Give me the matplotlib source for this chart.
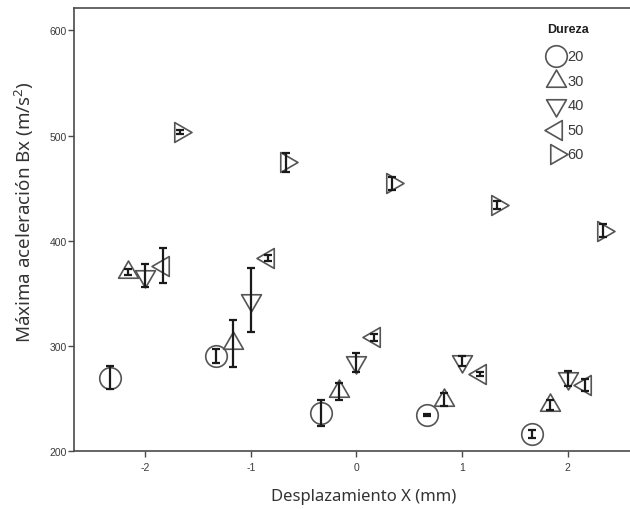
import numpy as np
import matplotlib
matplotlib.use("Agg")
import matplotlib.pyplot as plt
from matplotlib.path import Path

# Desplazamiento X levels and hardness groups
x_levels = [-2, -1, 0, 1, 2]
durezas = [20, 30, 40, 50, 60]
x_tick_labels = ["-2", "-1", "0", "1", "2"]
y_ticks = [200, 300, 400, 500, 600]

# Mean of maximum acceleration Bx (m/s^2) and error-bar half widths per group
mean_20 = [270.0, 290.7, 236.4, 234.7, 216.5]
err_20 = [10.8, 6.7, 12.7, 1.0, 3.8]
mean_30 = [370.5, 302.5, 257.0, 249.0, 244.0]
err_30 = [3.0, 22.6, 8.0, 6.0, 5.0]
mean_40 = [367.0, 343.9, 284.6, 286.0, 269.5]
err_40 = [11.0, 30.2, 8.9, 5.0, 7.0]
mean_50 = [376.5, 383.5, 308.4, 273.5, 263.2]
err_50 = [16.7, 3.0, 3.2, 1.5, 5.6]
mean_60 = [503.4, 474.8, 454.7, 434.0, 409.5]
err_60 = [2.0, 9.0, 6.0, 4.0, 6.3]

means = [mean_20, mean_30, mean_40, mean_50, mean_60]
errs = [err_20, err_30, err_40, err_50, err_60]

plt.rcParams["mathtext.default"] = "regular"

TICK_FONT = ["Liberation Sans", "DejaVu Sans"]
LABEL_FONT = ["Noto Sans", "DejaVu Sans"]


def triangle(angle_deg):
    """Equilateral triangle anchored at its centroid, pointing to angle_deg."""
    verts = np.array([[0.0, 0.577], [-0.5, -0.289], [0.5, -0.289], [0.0, 0.577]])
    a = np.deg2rad(angle_deg - 90)
    rot = np.array([[np.cos(a), -np.sin(a)], [np.sin(a), np.cos(a)]])
    verts = verts @ rot.T
    codes = [Path.MOVETO, Path.LINETO, Path.LINETO, Path.CLOSEPOLY]
    return Path(verts, codes)


markers = ["o", triangle(90), triangle(270), triangle(180), triangle(0)]
sizes = [15.5, 16.5, 16.5, 16.5, 16.5]

W, H = 630, 510
fig = plt.figure(figsize=(W / 100, H / 100), dpi=100)
ax_bottom, ax_top = 452.3, 9.3
ax = fig.add_axes([73.5 / W, (H - ax_bottom) / H, (639.4 - 73.5) / W, (ax_bottom - ax_top) / H])

edge = "#555555"
n = len(durezas)
for i in range(n):
    offset = (i - (n - 1) / 2) / 6.0
    xs = np.array(x_levels) + offset
    ax.plot(xs, means[i], linestyle="none", marker=markers[i], ms=sizes[i],
            mfc="none", mec=edge, mew=1.2, zorder=3)
    ax.errorbar(xs, means[i], yerr=errs[i], fmt="none", ecolor="#1a1a1a",
                elinewidth=1.6, capsize=3.2, capthick=1.6, zorder=4)

ax.set_xlim(-2.68, 2.68)
ax.set_ylim(200, 621)
ax.set_xticks(x_levels)
ax.set_xticklabels(x_tick_labels)
ax.set_yticks(y_ticks)
ax.set_yticklabels([str(v) for v in y_ticks])

for side in ["left", "top", "bottom", "right"]:
    ax.spines[side].set_color("#4a4a4a")
    ax.spines[side].set_linewidth(1.2)

ax.tick_params(axis="y", direction="out", length=4, width=1, color="#4a4a4a",
               pad=1, labelsize=7.5, labelcolor="#3a3a3a")
ax.tick_params(axis="x", direction="out", length=4.5, width=1, color="#4a4a4a",
               pad=3, labelsize=7.5, labelcolor="#3a3a3a")
for lab in ax.get_xticklabels() + ax.get_yticklabels():
    lab.set_family(TICK_FONT)

ax.set_ylabel("Máxima aceleración Bx (m/s$^{2}$)", fontsize=13.5, color="#333333",
              family=LABEL_FONT)
ax.yaxis.set_label_coords(-(73.5 - 24) / 565.9, (ax_bottom - 212) / (ax_bottom - ax_top))
ax.set_xlabel("Desplazamiento X (mm)", fontsize=12, color="#333333",
              family=LABEL_FONT)
ax.xaxis.set_label_coords((363.6 - 73.5) / 565.9, -(496.7 - ax_bottom) / (ax_bottom - ax_top))
ax.yaxis.label.set_va("center")
ax.xaxis.label.set_va("center")

# Legend drawn in figure pixels
fig.text(567.7 / W, 1 - 30 / H, "Dureza", fontsize=9, fontweight="bold",
         color="#1e1e1e", family=TICK_FONT, ha="center", va="center")
for i, d in enumerate(durezas):
    yy = 57.3 + 24.5 * i
    ax.plot([556 / W], [1 - yy / H], transform=fig.transFigure, clip_on=False,
            linestyle="none", marker=markers[i], ms=sizes[i], mfc="none",
            mec=edge, mew=1.2)
    fig.text(567.5 / W, 1 - yy / H, str(d), fontsize=10.5, color="#3a3a3a",
             family=TICK_FONT, ha="left", va="center")

fig.savefig("out.png", dpi=100)
